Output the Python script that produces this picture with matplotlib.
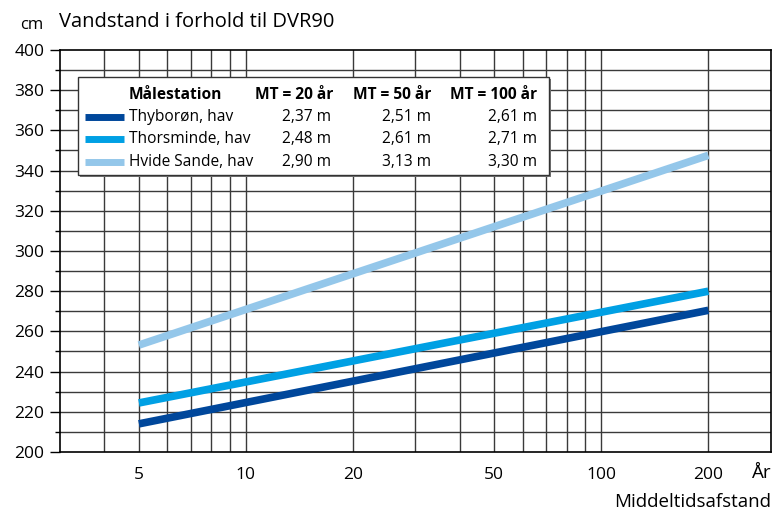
import numpy as np
import matplotlib.pyplot as plt
from matplotlib.patches import Rectangle
from matplotlib.lines import Line2D
from matplotlib.ticker import NullFormatter

plt.rcParams['font.family'] = ['Open Sans', 'DejaVu Sans']

# data aflaest fra figuren (cm ift. DVR90)
aar = [5, 200]
thyboroen = [214.0, 270.5]
thorsminde = [224.4, 280.0]
hvide_sande = [253.2, 347.6]

stationer = ['Thyborøn, hav', 'Thorsminde, hav', 'Hvide Sande, hav']
farver = ['#00479b', '#00a0e4', '#94c7ea']
mt_20 = ['2,37 m', '2,48 m', '2,90 m']
mt_50 = ['2,51 m', '2,61 m', '3,13 m']
mt_100 = ['2,61 m', '2,71 m', '3,30 m']

x_ticks = [5, 10, 20, 50, 100, 200]
x_grid = [4, 5, 6, 7, 8, 9, 10, 20, 30, 40, 50, 60, 70, 80, 90, 100, 200]
y_ticks = np.arange(200, 401, 20)
y_grid = np.arange(210, 400, 10)

W, H = 775, 511
def px(x, y):
    return x / W, 1 - y / H

fig = plt.figure(figsize=(W / 100, H / 100), dpi=100)
ax = fig.add_axes([60 / W, 1 - 452 / H, (771 - 60) / W, (452 - 50) / H])
ax.set_xscale('log')
ax.set_xlim(3, 300)
ax.set_ylim(200, 400)

for v in x_grid:
    ax.axvline(v, color='#3a3a3a', lw=1, zorder=1)
for v in y_grid:
    ax.axhline(v, color='#3a3a3a', lw=1, zorder=1)

for serie, f in zip([thyboroen, thorsminde, hvide_sande], farver):
    ax.plot(aar, serie, color=f, lw=5.5, solid_capstyle='butt', zorder=3)

for s in ax.spines.values():
    s.set_linewidth(1.2)

ax.set_xticks(x_ticks)
ax.set_xticklabels([str(t) for t in x_ticks])
ax.set_xticks([10, 100], minor=True)
ax.xaxis.set_minor_formatter(NullFormatter())
ax.tick_params(axis='x', which='major', length=0, pad=11, labelsize=12.5)
ax.tick_params(axis='x', which='minor', length=4, width=1)

ax.set_yticks(y_ticks)
ax.set_yticks(y_grid, minor=True)
ax.tick_params(axis='y', which='major', length=7.2, width=1, pad=4, labelsize=12.5)
ax.tick_params(axis='y', which='minor', length=3.6, width=1)

# tekster
fig.text(*px(59, 22), 'Vandstand i forhold til DVR90', fontsize=14.5, va='center', ha='left')
fig.text(*px(20, 25), 'cm', fontsize=12, va='center', ha='left')
fig.text(*px(752, 473), 'År', fontsize=13.5, va='center', ha='left')
fig.text(*px(771, 502), 'Middeltidsafstand', fontsize=13.5, va='center', ha='right')

# legende som tabel
x0, y0 = px(78, 175)
bw, bh = 471 / W, 98 / H
fig.add_artist(Rectangle((x0 + 2 / W, y0 - 2 / H), bw, bh, transform=fig.transFigure,
                         facecolor='#777777', edgecolor='none', zorder=5))
fig.add_artist(Rectangle((x0, y0), bw, bh, transform=fig.transFigure,
                         facecolor='white', edgecolor='#333333', lw=1, zorder=6))

fs = 11.2
fig.text(*px(129, 95), 'Målestation', fontsize=fs, fontweight='bold', va='center', zorder=7)
fig.text(*px(333, 95), 'MT = 20 år', fontsize=fs, fontweight='bold', va='center', ha='right', zorder=7)
fig.text(*px(431, 95), 'MT = 50 år', fontsize=fs, fontweight='bold', va='center', ha='right', zorder=7)
fig.text(*px(537, 95), 'MT = 100 år', fontsize=fs, fontweight='bold', va='center', ha='right', zorder=7)

rows_y = [117, 139, 162]
for i in range(3):
    yy = rows_y[i]
    xa, ya = px(85, yy)
    xb, _ = px(124, yy)
    fig.add_artist(Line2D([xa, xb], [ya, ya], transform=fig.transFigure, color=farver[i],
                          lw=5, solid_capstyle='butt', zorder=7))
    fig.text(*px(129, yy), stationer[i], fontsize=fs, va='center', zorder=7)
    fig.text(*px(331, yy), mt_20[i], fontsize=fs, va='center', ha='right', zorder=7)
    fig.text(*px(431, yy), mt_50[i], fontsize=fs, va='center', ha='right', zorder=7)
    fig.text(*px(537, yy), mt_100[i], fontsize=fs, va='center', ha='right', zorder=7)

fig.savefig('out.png', dpi=100)
